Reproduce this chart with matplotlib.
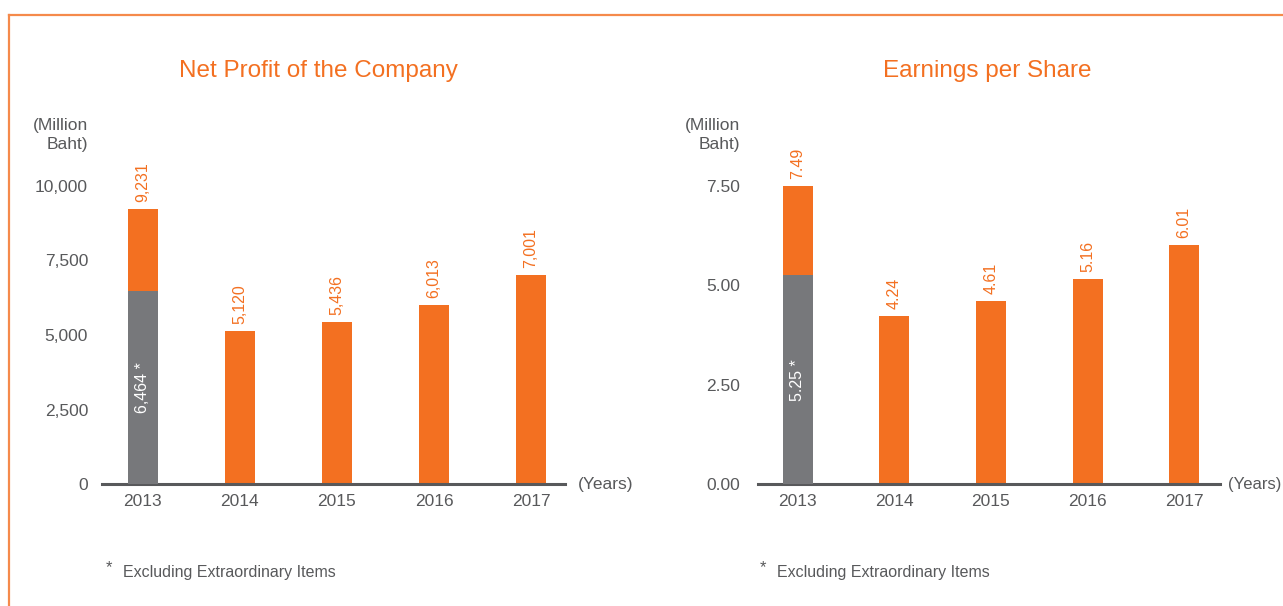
import matplotlib
matplotlib.use("Agg")
import matplotlib.pyplot as plt
from matplotlib.lines import Line2D

# ---- data ----
years = ["2013", "2014", "2015", "2016", "2017"]
net_profit = [9231, 5120, 5436, 6013, 7001]
net_profit_excl = [6464, None, None, None, None]
net_profit_labels = ["9,231", "5,120", "5,436", "6,013", "7,001"]
net_profit_ticks = [0, 2500, 5000, 7500, 10000]
net_profit_ticklabels = ["0", "2,500", "5,000", "7,500", "10,000"]

eps = [7.49, 4.24, 4.61, 5.16, 6.01]
eps_excl = [5.25, None, None, None, None]
eps_labels = ["7.49", "4.24", "4.61", "5.16", "6.01"]
eps_ticks = [0, 2.5, 5.0, 7.5]
eps_ticklabels = ["0.00", "2.50", "5.00", "7.50"]

titles = ["Net Profit of the Company", "Earnings per Share"]
unit_label = "(Million\nBaht)"
x_unit = "(Years)"
footnote = "Excluding Extraordinary Items"

# ---- style ----
ORANGE = "#F37021"
GREY = "#77787B"
TEXT = "#58595B"
FRAME = "#F58A4B"
NARROW = ["Liberation Sans Narrow", "Liberation Sans", "DejaVu Sans"]
REG = ["Liberation Sans", "DejaVu Sans"]

W, H = 1283, 606
fig = plt.figure(figsize=(W / 100, H / 100), dpi=100)
fig.patch.set_facecolor("white")

def fx(px):
    return px / W

def fy(py):
    return 1 - py / H

# frame lines (top and left)
fig.add_artist(Line2D([fx(9), 1.0], [fy(15), fy(15)], color=FRAME, lw=1.6,
                      transform=fig.transFigure))
fig.add_artist(Line2D([fx(9), fx(9)], [fy(15), 0.0], color=FRAME, lw=1.6,
                      transform=fig.transFigure))

panels = [
    dict(left=102, right=565, xlim=(-0.42, 4.35), ymax=10500, unit_y=10000,
         vals=net_profit, excl=net_profit_excl, labels=net_profit_labels,
         ticks=net_profit_ticks, ticklabels=net_profit_ticklabels,
         excl_fmt=lambda v: f"{v:,.0f} *", title=titles[0], title_x=318,
         foot_x=106, ypad=10, unit_right=88, yrs_off=9, yrs_fs=12.5),
    dict(left=758, right=1220, xlim=(-0.41, 4.37), ymax=7.875, unit_y=7.5,
         vals=eps, excl=eps_excl, labels=eps_labels,
         ticks=eps_ticks, ticklabels=eps_ticklabels,
         excl_fmt=lambda v: f"{v:.2f} *", title=titles[1], title_x=987,
         foot_x=760, ypad=13, unit_right=740, yrs_off=6, yrs_fs=12),
]

base_px = 484
unit_px = 298  # pixels for unit_y

for p in panels:
    top_px = base_px - unit_px * p["ymax"] / p["unit_y"]
    ax = fig.add_axes([fx(p["left"]), fy(base_px), fx(p["right"] - p["left"]),
                       (base_px - top_px) / H])
    ax.set_xlim(*p["xlim"])
    ax.set_ylim(0, p["ymax"])
    x = list(range(len(years)))
    ax.bar(x, p["vals"], width=0.31, color=ORANGE, zorder=2)
    for i, (v, e) in enumerate(zip(p["vals"], p["excl"])):
        if e is not None:
            ax.bar([i], [e], width=0.31, color=GREY, zorder=3)
            ax.text(i, e / 2, p["excl_fmt"](e), rotation=90, ha="center",
                    va="center", color="white", fontsize=11.5, family=REG,
                    zorder=4)
        ax.annotate(p["labels"][i], (i, v), xytext=(0, 5),
                    textcoords="offset points", rotation=90, ha="center",
                    va="bottom", color=ORANGE, fontsize=11.5, family=REG)
    for s in ["top", "right", "left"]:
        ax.spines[s].set_visible(False)
    ax.spines["bottom"].set_color(TEXT)
    ax.spines["bottom"].set_linewidth(2.2)
    ax.set_yticks(p["ticks"])
    ax.set_yticklabels(p["ticklabels"], family=NARROW, fontsize=12.5, color=TEXT)
    ax.set_xticks(x)
    ax.set_xticklabels(years, family=NARROW, fontsize=12.5, color=TEXT)
    ax.tick_params(axis="y", length=0, pad=p["ypad"])
    ax.tick_params(axis="x", length=0, pad=7)
    ax.patch.set_alpha(0)
    # years unit
    ax.annotate(x_unit, (1, 0), xycoords="axes fraction",
                xytext=(p["yrs_off"], 0), textcoords="offset points",
                ha="left", va="center", family=NARROW, fontsize=p["yrs_fs"],
                color=TEXT)
    # y unit label
    fig.text(fx(p["unit_right"]), fy(135), unit_label, ha="right", va="center",
             family=NARROW, fontsize=12.5, color=TEXT, linespacing=1.35)
    # title
    fig.text(fx(p["title_x"]), fy(71), p["title"], ha="center", va="center",
             family=REG, fontsize=17.5, color=ORANGE)
    # footnote
    fig.text(fx(p["foot_x"]), fy(568), "*", ha="left", va="center",
             family=NARROW, fontsize=12, color=TEXT)
    fig.text(fx(p["foot_x"] + 17), fy(573), footnote, ha="left", va="center",
             family=NARROW, fontsize=11.5, color=TEXT)

fig.savefig("out.png", dpi=100, facecolor="white")
